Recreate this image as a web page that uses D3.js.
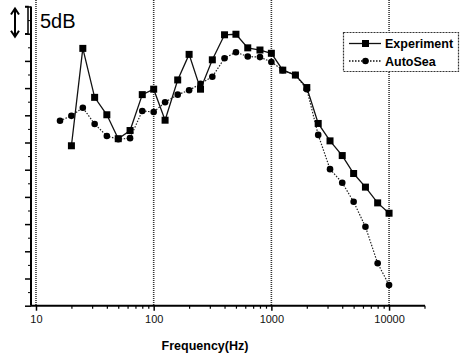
<!DOCTYPE html>
<html>
<head>
<meta charset="utf-8">
<script src="https://cdn.jsdelivr.net/npm/d3@7"></script>
<style>
  body { margin: 0; background: #fff; }
  svg { display: block; }
</style>
</head>
<body>
<div id="chart"></div>
<script>
// 1/3 octave band frequencies (Hz)
const freqExp = [20, 25, 31.5, 40, 50, 63, 80, 100, 125, 160, 200, 250, 315, 400, 500, 630, 800,
  1000, 1250, 1600, 2000, 2500, 3150, 4000, 5000, 6300, 8000, 10000];
const levelExp = [29.4, 47.3, 38.3, 35.1, 30.7, 32.2, 38.8, 39.8, 34.1, 41.5, 46.2, 39.8, 45.2, 49.8, 49.9, 47.4, 47.0,
  46.4, 43.3, 42.4, 40.1, 33.5, 30.3, 27.6, 24.3, 21.8, 18.9, 17.0];

const freqSea = [16, 20, 25, 31.5, 40, 50, 63, 80, 100, 125, 160, 200, 250, 315, 400, 500, 630, 800,
  1000, 1250, 1600, 2000, 2500, 3150, 4000, 5000, 6300, 8000, 10000];
const levelSea = [34.0, 34.9, 36.4, 33.4, 31.2, 30.6, 30.8, 35.8, 35.6, 37.4, 38.8, 39.6, 40.8, 42.1, 45.5, 46.6, 45.8, 45.7,
  44.8, 43.3, 42.4, 39.8, 31.4, 25.1, 22.6, 19.1, 14.5, 7.8, 3.8];

const decadeTicks = [10, 100, 1000, 10000];
const seriesNames = ["Experiment", "AutoSea"];

const width = 463, height = 355;
const svg = d3.select("#chart").append("svg")
  .attr("width", width)
  .attr("height", height);

// scales
const x = d3.scaleLog().domain([9.07, 20200]).range([31, 425]);
const y = d3.scaleLinear().domain([0, 55]).range([305.7, 6.5]);

// vertical dotted grid at decades
svg.append("g")
  .selectAll("line")
  .data(decadeTicks)
  .enter()
  .append("line")
    .attr("x1", d => x(d)).attr("x2", d => x(d))
    .attr("y1", 0).attr("y2", y(0))
    .attr("stroke", "#333")
    .attr("stroke-width", 1.6)
    .attr("stroke-dasharray", "1,1");

// x axis
const minorX = [];
[10, 100, 1000, 10000].forEach(function(b) {
  for (let k = 2; k <= 9; k++) if (b * k < 20200) minorX.push(b * k);
});
const xAxis = svg.append("g").attr("transform", "translate(0," + y(0) + ")");
xAxis.call(d3.axisBottom(x).tickValues(minorX).tickSize(3).tickFormat(""));
xAxis.call(g => g.selectAll(".tick line").attr("stroke-width", 1.2));
const xMajor = svg.append("g").attr("transform", "translate(0," + y(0) + ")")
  .call(d3.axisBottom(x).tickValues(decadeTicks).tickSize(5).tickFormat(d3.format("d")));
xMajor.select(".domain").remove();
xMajor.selectAll(".tick line").attr("stroke-width", 1.5);
xMajor.selectAll("text")
  .attr("y", 10)
  .style("font-family", "Liberation Sans, Arial, sans-serif")
  .style("font-size", "11px")
  .attr("fill", "#111");
xAxis.select(".domain").attr("stroke-width", 2).attr("d", "M31,0H425");

// y axis (no labels)
const minorY = d3.range(2.5, 55, 5);
const majorY = d3.range(0, 56, 5);
const yAxis = svg.append("g").attr("transform", "translate(31,0)");
yAxis.call(d3.axisLeft(y).tickValues(minorY).tickSize(3).tickFormat(""));
yAxis.select(".domain").attr("stroke-width", 2).attr("d", "M0," + y(55) + "V" + y(0));
const yMajor = svg.append("g").attr("transform", "translate(31,0)")
  .call(d3.axisLeft(y).tickValues(majorY).tickSize(6).tickFormat(""));
yMajor.select(".domain").remove();
yMajor.selectAll(".tick line").attr("stroke-width", 1.5);

// 5 dB scale marker
const marker = svg.append("g").attr("stroke", "#000").attr("fill", "none");
marker.append("path")
  .attr("d", "M25," + y(55) + "H28V" + y(50) + "H25")
  .attr("stroke-width", 1.5);
marker.append("path")
  .attr("d", "M15," + (y(55) + 3) + "V" + (y(50) + 2))
  .attr("stroke-width", 2);
marker.append("path")
  .attr("d", "M11," + (y(55) + 8) + "L15," + (y(55) + 2) + "L19," + (y(55) + 8))
  .attr("stroke-width", 2);
marker.append("path")
  .attr("d", "M11," + (y(50) - 3) + "L15," + (y(50) + 3) + "L19," + (y(50) - 3))
  .attr("stroke-width", 2);
svg.append("text")
  .attr("x", 40).attr("y", 28)
  .style("font-family", "Liberation Sans, Arial, sans-serif")
  .style("font-size", "20px")
  .text("5dB");

// lines
const expData = freqExp.map((f, i) => ({ f: f, v: levelExp[i] }));
const seaData = freqSea.map((f, i) => ({ f: f, v: levelSea[i] }));
const line = d3.line().x(d => x(d.f)).y(d => y(d.v));

svg.append("path").datum(seaData)
  .attr("d", line)
  .attr("fill", "none")
  .attr("stroke", "#222")
  .attr("stroke-width", 1.2)
  .attr("stroke-dasharray", "1.5,1.5");
svg.append("path").datum(expData)
  .attr("d", line)
  .attr("fill", "none")
  .attr("stroke", "#111")
  .attr("stroke-width", 1.3);

svg.append("g").selectAll("circle")
  .data(seaData).enter().append("circle")
    .attr("cx", d => x(d.f)).attr("cy", d => y(d.v))
    .attr("r", 3.3)
    .attr("fill", "#000");
svg.append("g").selectAll("rect")
  .data(expData).enter().append("rect")
    .attr("x", d => x(d.f) - 3.5).attr("y", d => y(d.v) - 3.5)
    .attr("width", 7).attr("height", 7)
    .attr("fill", "#000");

// legend
const legend = svg.append("g");
legend.append("rect")
  .attr("x", 343.5).attr("y", 32.5)
  .attr("width", 115).attr("height", 39)
  .attr("fill", "#fff")
  .attr("stroke", "#333")
  .attr("stroke-width", 1.2)
  .attr("stroke-dasharray", "2,1");
seriesNames.forEach(function(name, i) {
  const ly = 43.5 + i * 17.5;
  legend.append("line")
    .attr("x1", 349).attr("x2", 381).attr("y1", ly).attr("y2", ly)
    .attr("stroke", "#111")
    .attr("stroke-width", 1.3)
    .attr("stroke-dasharray", i === 0 ? null : "1.5,1.5");
  if (i === 0) {
    legend.append("rect").attr("x", 362).attr("y", ly - 3.5).attr("width", 7).attr("height", 7).attr("fill", "#000");
  } else {
    legend.append("circle").attr("cx", 365.5).attr("cy", ly).attr("r", 3.3).attr("fill", "#000");
  }
  legend.append("text")
    .attr("x", 385).attr("y", ly + 4.5)
    .style("font-family", "Liberation Sans, Arial, sans-serif")
    .style("font-size", "12.5px")
    .style("font-weight", "bold")
    .text(name);
});

// x axis title
svg.append("text")
  .attr("x", 205).attr("y", 350)
  .attr("text-anchor", "middle")
  .style("font-family", "Liberation Sans, Arial, sans-serif")
  .style("font-size", "12.5px")
  .style("font-weight", "bold")
  .text("Frequency(Hz)");
</script>
</body>
</html>
